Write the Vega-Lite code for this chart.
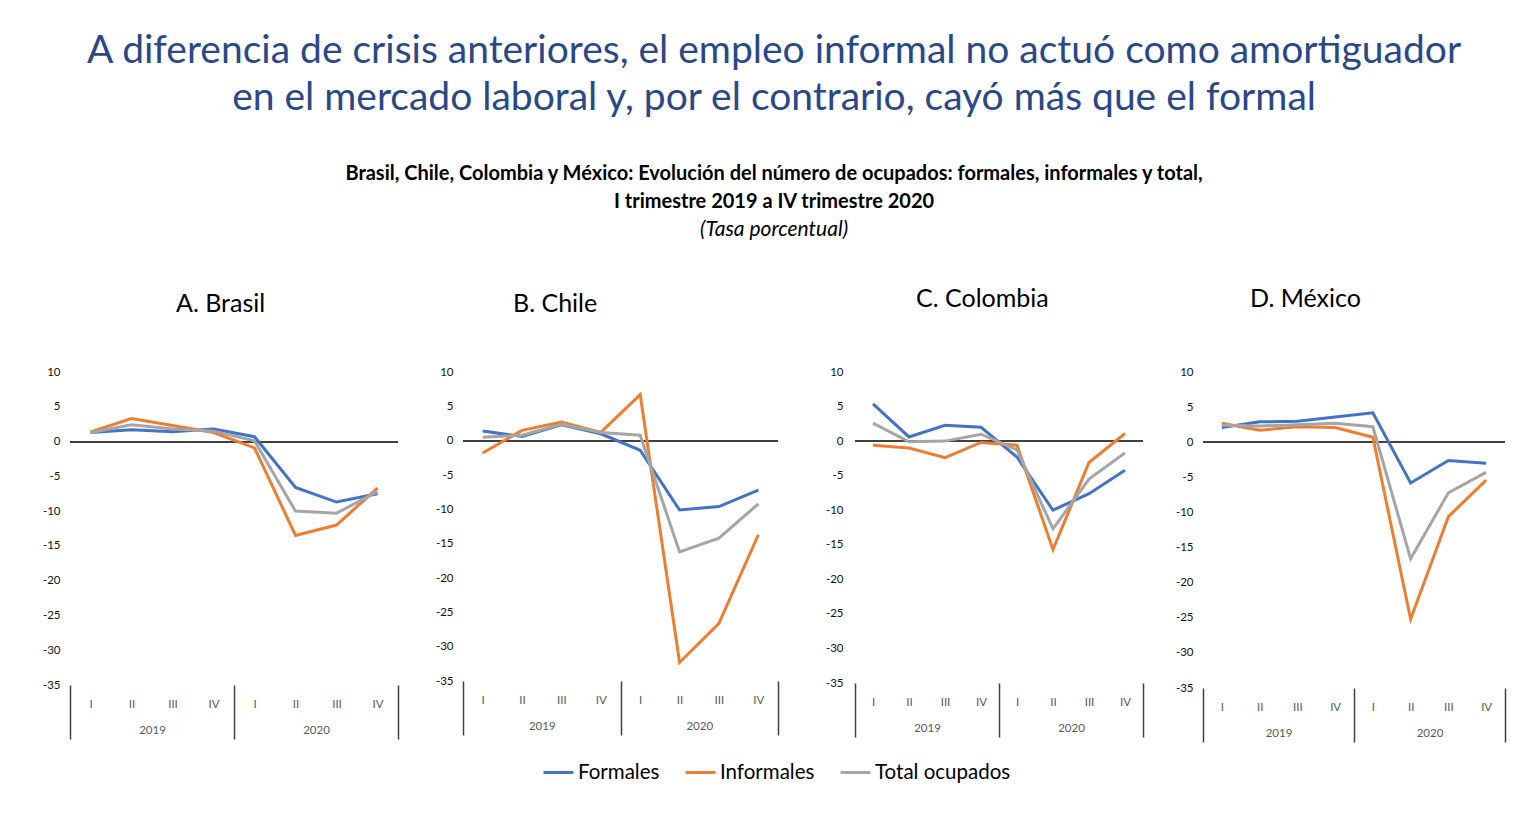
{
  "$schema": "https://vega.github.io/schema/vega-lite/v6.json",
  "background": "white",
  "padding": {"left": 42, "top": 32, "right": 5, "bottom": 5},
  "title": {
    "text": ["A diferencia de crisis anteriores, el empleo informal no actuó como amortiguador", "en el mercado laboral y, por el contrario, cayó más que el formal"],
    "fontSize": 39, "font": "Lato", "fontWeight": "normal", "color": "#2A4887", "lineHeight": 47, "offset": 46, "anchor": "middle"
  },
  "data": {"values": [
    {"p":"Brasil","t":1,"s":"Formales","v":1.3},{"p":"Brasil","t":2,"s":"Formales","v":1.7},{"p":"Brasil","t":3,"s":"Formales","v":1.4},{"p":"Brasil","t":4,"s":"Formales","v":1.8},
    {"p":"Brasil","t":5,"s":"Formales","v":0.7},{"p":"Brasil","t":6,"s":"Formales","v":-6.6},{"p":"Brasil","t":7,"s":"Formales","v":-8.7},{"p":"Brasil","t":8,"s":"Formales","v":-7.5},
    {"p":"Brasil","t":1,"s":"Informales","v":1.4},{"p":"Brasil","t":2,"s":"Informales","v":3.3},{"p":"Brasil","t":3,"s":"Informales","v":2.3},{"p":"Brasil","t":4,"s":"Informales","v":1.3},
    {"p":"Brasil","t":5,"s":"Informales","v":-0.9},{"p":"Brasil","t":6,"s":"Informales","v":-13.5},{"p":"Brasil","t":7,"s":"Informales","v":-12.0},{"p":"Brasil","t":8,"s":"Informales","v":-6.7},
    {"p":"Brasil","t":1,"s":"Total ocupados","v":1.3},{"p":"Brasil","t":2,"s":"Total ocupados","v":2.4},{"p":"Brasil","t":3,"s":"Total ocupados","v":1.8},{"p":"Brasil","t":4,"s":"Total ocupados","v":1.5},
    {"p":"Brasil","t":5,"s":"Total ocupados","v":0.1},{"p":"Brasil","t":6,"s":"Total ocupados","v":-10.0},{"p":"Brasil","t":7,"s":"Total ocupados","v":-10.3},{"p":"Brasil","t":8,"s":"Total ocupados","v":-7.2},
    {"p":"Chile","t":1,"s":"Formales","v":1.4},{"p":"Chile","t":2,"s":"Formales","v":0.6},{"p":"Chile","t":3,"s":"Formales","v":2.3},{"p":"Chile","t":4,"s":"Formales","v":1.0},
    {"p":"Chile","t":5,"s":"Formales","v":-1.4},{"p":"Chile","t":6,"s":"Formales","v":-10.1},{"p":"Chile","t":7,"s":"Formales","v":-9.6},{"p":"Chile","t":8,"s":"Formales","v":-7.2},
    {"p":"Chile","t":1,"s":"Informales","v":-1.8},{"p":"Chile","t":2,"s":"Informales","v":1.5},{"p":"Chile","t":3,"s":"Informales","v":2.7},{"p":"Chile","t":4,"s":"Informales","v":1.2},
    {"p":"Chile","t":5,"s":"Informales","v":6.7},{"p":"Chile","t":6,"s":"Informales","v":-32.3},{"p":"Chile","t":7,"s":"Informales","v":-26.6},{"p":"Chile","t":8,"s":"Informales","v":-13.7},
    {"p":"Chile","t":1,"s":"Total ocupados","v":0.5},{"p":"Chile","t":2,"s":"Total ocupados","v":0.8},{"p":"Chile","t":3,"s":"Total ocupados","v":2.4},{"p":"Chile","t":4,"s":"Total ocupados","v":1.2},
    {"p":"Chile","t":5,"s":"Total ocupados","v":0.8},{"p":"Chile","t":6,"s":"Total ocupados","v":-16.2},{"p":"Chile","t":7,"s":"Total ocupados","v":-14.2},{"p":"Chile","t":8,"s":"Total ocupados","v":-9.2},
    {"p":"Colombia","t":1,"s":"Formales","v":5.4},{"p":"Colombia","t":2,"s":"Formales","v":0.6},{"p":"Colombia","t":3,"s":"Formales","v":2.3},{"p":"Colombia","t":4,"s":"Formales","v":2.0},
    {"p":"Colombia","t":5,"s":"Formales","v":-2.3},{"p":"Colombia","t":6,"s":"Formales","v":-10.0},{"p":"Colombia","t":7,"s":"Formales","v":-7.6},{"p":"Colombia","t":8,"s":"Formales","v":-4.2},
    {"p":"Colombia","t":1,"s":"Informales","v":-0.6},{"p":"Colombia","t":2,"s":"Informales","v":-1.0},{"p":"Colombia","t":3,"s":"Informales","v":-2.4},{"p":"Colombia","t":4,"s":"Informales","v":-0.2},
    {"p":"Colombia","t":5,"s":"Informales","v":-0.6},{"p":"Colombia","t":6,"s":"Informales","v":-15.7},{"p":"Colombia","t":7,"s":"Informales","v":-3.1},{"p":"Colombia","t":8,"s":"Informales","v":1.1},
    {"p":"Colombia","t":1,"s":"Total ocupados","v":2.6},{"p":"Colombia","t":2,"s":"Total ocupados","v":-0.1},{"p":"Colombia","t":3,"s":"Total ocupados","v":0.0},{"p":"Colombia","t":4,"s":"Total ocupados","v":1.0},
    {"p":"Colombia","t":5,"s":"Total ocupados","v":-1.25},{"p":"Colombia","t":6,"s":"Total ocupados","v":-12.7},{"p":"Colombia","t":7,"s":"Total ocupados","v":-5.5},{"p":"Colombia","t":8,"s":"Total ocupados","v":-1.7},
    {"p":"México","t":1,"s":"Formales","v":2.1},{"p":"México","t":2,"s":"Formales","v":2.9},{"p":"México","t":3,"s":"Formales","v":3.0},{"p":"México","t":4,"s":"Formales","v":3.6},
    {"p":"México","t":5,"s":"Formales","v":4.2},{"p":"México","t":6,"s":"Formales","v":-5.8},{"p":"México","t":7,"s":"Formales","v":-2.6},{"p":"México","t":8,"s":"Formales","v":-3.0},
    {"p":"México","t":1,"s":"Informales","v":2.7},{"p":"México","t":2,"s":"Informales","v":1.7},{"p":"México","t":3,"s":"Informales","v":2.2},{"p":"México","t":4,"s":"Informales","v":2.1},
    {"p":"México","t":5,"s":"Informales","v":0.7},{"p":"México","t":6,"s":"Informales","v":-25.2},{"p":"México","t":7,"s":"Informales","v":-10.6},{"p":"México","t":8,"s":"Informales","v":-5.4},
    {"p":"México","t":1,"s":"Total ocupados","v":2.4},{"p":"México","t":2,"s":"Total ocupados","v":2.3},{"p":"México","t":3,"s":"Total ocupados","v":2.5},{"p":"México","t":4,"s":"Total ocupados","v":2.7},
    {"p":"México","t":5,"s":"Total ocupados","v":2.2},{"p":"México","t":6,"s":"Total ocupados","v":-16.6},{"p":"México","t":7,"s":"Total ocupados","v":-7.2},{"p":"México","t":8,"s":"Total ocupados","v":-4.3}
  ]},
  "vconcat": [{
    "title": {
      "text": ["Brasil, Chile, Colombia y México: Evolución del número de ocupados: formales, informales y total,", "I trimestre 2019 a IV trimestre 2020"],
      "subtitle": "(Tasa porcentual)",
      "fontSize": 20, "fontWeight": "bold", "color": "#000000", "lineHeight": 28,
      "subtitleFontSize": 21, "subtitleFontStyle": "italic", "subtitleColor": "#000000", "subtitlePadding": 7,
      "offset": 47, "anchor": "middle"
    },
    "spacing": 46,
    "hconcat": [
      {
        "spacing": 36,
        "hconcat": [
          {
            "width": 328, "height": 313,
            "title": {"text": "A. Brasil", "anchor": "start", "frame": "group", "dx": 106, "offset": 49},
            "transform": [{"filter": "datum.p == 'Brasil'"}],
            "layer": [
              {"mark": {"type": "rule", "color": "#404040", "strokeWidth": 1.3}, "encoding": {"y": {"datum": 0, "type": "quantitative", "scale": {"domain": [-35, 10], "nice": false, "zero": false}}}},
              {"mark": {"type": "line", "strokeWidth": 3}, "encoding": {
                "x": {"field": "t", "type": "quantitative", "scale": {"domain": [0.5, 8.5], "nice": false, "zero": false},
                  "axis": {
                    "values": [0.5, 1, 2, 2.5, 3, 4, 4.5, 5, 6, 6.5, 7, 8, 8.5],
                    "labelExpr": "datum.value==1||datum.value==5?'I':datum.value==2||datum.value==6?'II':datum.value==3||datum.value==7?'III':datum.value==4||datum.value==8?'IV':datum.value==2.5?'2019':datum.value==6.5?'2020':''",
                    "tickOpacity": {"condition": {"test": "datum.value==0.5||datum.value==4.5||datum.value==8.5", "value": 1}, "value": 0},
                    "labelPadding": {"condition": {"test": "datum.value==2.5||datum.value==6.5", "value": -15}, "value": -41}
                  }},
                "y": {"field": "v", "type": "quantitative"},
                "color": {"field": "s", "type": "nominal"}
              }}
            ]
          },
          {
            "width": 315, "height": 309,
            "title": {"text": "B. Chile", "anchor": "start", "frame": "group", "dx": 50, "offset": 49},
            "transform": [{"filter": "datum.p == 'Chile'"}],
            "layer": [
              {"mark": {"type": "rule", "color": "#404040", "strokeWidth": 1.3}, "encoding": {"y": {"datum": 0, "type": "quantitative", "scale": {"domain": [-35, 10], "nice": false, "zero": false}}}},
              {"mark": {"type": "line", "strokeWidth": 3}, "encoding": {
                "x": {"field": "t", "type": "quantitative", "scale": {"domain": [0.5, 8.5], "nice": false, "zero": false},
                  "axis": {
                    "values": [0.5, 1, 2, 2.5, 3, 4, 4.5, 5, 6, 6.5, 7, 8, 8.5],
                    "labelExpr": "datum.value==1||datum.value==5?'I':datum.value==2||datum.value==6?'II':datum.value==3||datum.value==7?'III':datum.value==4||datum.value==8?'IV':datum.value==2.5?'2019':datum.value==6.5?'2020':''",
                    "tickOpacity": {"condition": {"test": "datum.value==0.5||datum.value==4.5||datum.value==8.5", "value": 1}, "value": 0},
                    "labelPadding": {"condition": {"test": "datum.value==2.5||datum.value==6.5", "value": -15}, "value": -41}
                  }},
                "y": {"field": "v", "type": "quantitative"},
                "color": {"field": "s", "type": "nominal"}
              }}
            ]
          }
        ],
        "resolve": {"scale": {"color": "shared"}, "legend": {"color": "shared"}}
      },
      {
        "spacing": 31,
        "hconcat": [
          {
            "width": 288, "height": 311,
            "title": {"text": "C. Colombia", "anchor": "start", "frame": "group", "dx": 61, "offset": 54},
            "transform": [{"filter": "datum.p == 'Colombia'"}],
            "layer": [
              {"mark": {"type": "rule", "color": "#404040", "strokeWidth": 1.3}, "encoding": {"y": {"datum": 0, "type": "quantitative", "scale": {"domain": [-35, 10], "nice": false, "zero": false}, "axis": {"labelPadding": 12}}}},
              {"mark": {"type": "line", "strokeWidth": 3}, "encoding": {
                "x": {"field": "t", "type": "quantitative", "scale": {"domain": [0.5, 8.5], "nice": false, "zero": false},
                  "axis": {
                    "values": [0.5, 1, 2, 2.5, 3, 4, 4.5, 5, 6, 6.5, 7, 8, 8.5],
                    "labelExpr": "datum.value==1||datum.value==5?'I':datum.value==2||datum.value==6?'II':datum.value==3||datum.value==7?'III':datum.value==4||datum.value==8?'IV':datum.value==2.5?'2019':datum.value==6.5?'2020':''",
                    "tickOpacity": {"condition": {"test": "datum.value==0.5||datum.value==4.5||datum.value==8.5", "value": 1}, "value": 0},
                    "labelPadding": {"condition": {"test": "datum.value==2.5||datum.value==6.5", "value": -15}, "value": -41}
                  }},
                "y": {"field": "v", "type": "quantitative"},
                "color": {"field": "s", "type": "nominal"}
              }}
            ]
          },
          {
            "width": 302, "height": 316,
            "title": {"text": "D. México", "anchor": "start", "frame": "group", "dx": 47, "offset": 54},
            "transform": [{"filter": "datum.p == 'México'"}],
            "layer": [
              {"mark": {"type": "rule", "color": "#404040", "strokeWidth": 1.3}, "encoding": {"y": {"datum": 0, "type": "quantitative", "scale": {"domain": [-35, 10], "nice": false, "zero": false}}}},
              {"mark": {"type": "line", "strokeWidth": 3}, "encoding": {
                "x": {"field": "t", "type": "quantitative", "scale": {"domain": [0.5, 8.5], "nice": false, "zero": false},
                  "axis": {
                    "values": [0.5, 1, 2, 2.5, 3, 4, 4.5, 5, 6, 6.5, 7, 8, 8.5],
                    "labelExpr": "datum.value==1||datum.value==5?'I':datum.value==2||datum.value==6?'II':datum.value==3||datum.value==7?'III':datum.value==4||datum.value==8?'IV':datum.value==2.5?'2019':datum.value==6.5?'2020':''",
                    "tickOpacity": {"condition": {"test": "datum.value==0.5||datum.value==4.5||datum.value==8.5", "value": 1}, "value": 0},
                    "labelPadding": {"condition": {"test": "datum.value==2.5||datum.value==6.5", "value": -15}, "value": -41}
                  }},
                "y": {"field": "v", "type": "quantitative"},
                "color": {"field": "s", "type": "nominal", "legend": {"orient": "none", "legendX": 472, "legendY": 384}}
              }}
            ]
          }
        ],
        "resolve": {"scale": {"color": "shared"}, "legend": {"color": "shared"}}
      }
    ],
    "resolve": {"scale": {"color": "shared"}, "legend": {"color": "shared"}}
  }],
  "config": {
    "font": "Lato",
    "view": {"stroke": null},
    "title": {"fontSize": 25, "fontWeight": "normal", "color": "#000000", "font": "Lato"},
    "range": {"category": ["#4472C4", "#ED7D31", "#A5A5A5"]},
    "axisY": {
      "values": [-35, -30, -25, -20, -15, -10, -5, 0, 5, 10],
      "labelExpr": "'' + datum.value",
      "title": null, "domain": false, "ticks": false, "grid": false,
      "labelFontSize": 11.5, "labelColor": "#111111", "labelPadding": 10
    },
    "axisX": {
      "title": null, "domain": false, "grid": false,
      "tickSize": 54, "tickWidth": 1.5, "tickColor": "#404040",
      "labelFontSize": 11.5, "labelColor": "#595959", "labelOverlap": false, "labelBound": false, "labelFlush": false
    },
    "legend": {
      "direction": "horizontal", "title": null,
      "symbolType": "stroke", "symbolStrokeWidth": 3, "symbolSize": 900,
      "labelFontSize": 20.5, "labelColor": "#000000", "columnPadding": 19, "labelOffset": 3
    }
  }
}
